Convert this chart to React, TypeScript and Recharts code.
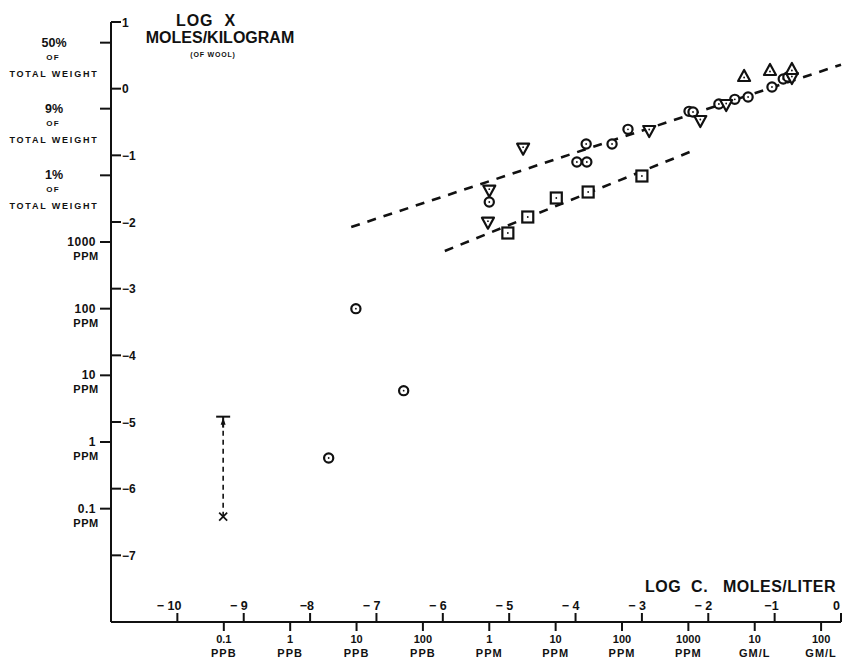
import React from 'react';
import { ScatterChart, Scatter, XAxis, YAxis, ReferenceLine } from 'recharts';

// ---- data (log C moles/liter, log X moles/kg) ----
const circlePoints = [
  { x: -7.31, y: -3.3 }, { x: -6.59, y: -4.53 }, { x: -7.72, y: -5.54 },
  { x: -5.3, y: -1.7 }, { x: -3.98, y: -1.1 }, { x: -3.83, y: -1.1 },
  { x: -3.84, y: -0.83 }, { x: -3.45, y: -0.83 }, { x: -3.21, y: -0.61 },
  { x: -2.29, y: -0.34 }, { x: -2.23, y: -0.35 }, { x: -1.84, y: -0.23 },
  { x: -1.6, y: -0.16 }, { x: -1.4, y: -0.125 }, { x: -1.04, y: 0.025 },
  { x: -0.87, y: 0.145 }, { x: -0.8, y: 0.175 },
];
const triangleDownPoints = [
  { x: -5.3, y: -1.53 }, { x: -5.32, y: -2.01 }, { x: -4.79, y: -0.9 },
  { x: -2.89, y: -0.635 }, { x: -2.12, y: -0.485 }, { x: -1.73, y: -0.245 },
  { x: -0.74, y: 0.16 },
];
const triangleUpPoints = [
  { x: -1.46, y: 0.19 }, { x: -1.07, y: 0.28 }, { x: -0.74, y: 0.295 },
];
const squarePoints = [
  { x: -5.02, y: -2.165 }, { x: -4.72, y: -1.925 }, { x: -4.29, y: -1.64 },
  { x: -3.81, y: -1.55 }, { x: -3.0, y: -1.31 },
];
const crossPoints = [{ x: -9.31, y: -6.42 }];
const errorTopPoints = [{ x: -9.31, y: -4.92 }];

const upperLine = [{ x: -7.38, y: -2.075 }, { x: 0, y: 0.36 }];
const lowerLine = [{ x: -5.97, y: -2.435 }, { x: -2.28, y: -0.95 }];
const errorLine = [{ x: -9.31, y: -6.42 }, { x: -9.31, y: -4.92 }];

// ---- ticks ----
const upperXTicks = [-10, -9, -8, -7, -6, -5, -4, -3, -2, -1, 0];
const upperXLabels = ['\u2212 10', '\u2212 9', '\u22128', '\u2212 7', '\u2212 6', '\u2212 5', '\u2212 4', '\u2212 3', '\u2212 2', '\u22121', '0'];
const lowerXTicks = [-9.3, -8.3, -7.3, -6.3, -5.3, -4.3, -3.3, -2.3, -1.3, -0.3];
const lowerXLabels = [
  ['0.1', 'PPB'], ['1', 'PPB'], ['10', 'PPB'], ['100', 'PPB'], ['1', 'PPM'],
  ['10', 'PPM'], ['100', 'PPM'], ['1000', 'PPM'], ['10', 'GM/L'], ['100', 'GM/L'],
];
const rightYTicks = [1, 0, -1, -2, -3, -4, -5, -6, -7];
const rightYLabels = ['1', '0', '\u22121', '\u22122', '\u22123', '\u22124', '\u22125', '\u22126', '\u22127'];
const leftYTicks = [0.69, -0.3, -1.3, -2.3, -3.3, -4.3, -5.3, -6.3];
const leftYLabels = [
  ['50%', 'OF', 'TOTAL WEIGHT'], ['9%', 'OF', 'TOTAL WEIGHT'], ['1%', 'OF', 'TOTAL WEIGHT'],
  ['1000', 'PPM'], ['100', 'PPM'], ['10', 'PPM'], ['1', 'PPM'], ['0.1', 'PPM'],
];

const FONT = '"Liberation Sans", Arial, sans-serif';
const INK = '#111';

const XTick = (props: any) => {
  const { x, y, payload } = props;
  const v = payload.value;
  const ui = upperXTicks.indexOf(v);
  if (ui >= 0) {
    const isLast = v === 0;
    return (
      <g>
        <line x1={x} x2={x} y1={y} y2={y - 9} stroke={INK} strokeWidth={2} />
        <text x={isLast ? x - 1 : x + 4} y={y - 12} textAnchor="end" fontFamily={FONT} fontWeight="bold" fontSize={12.5} fill={INK}>
          {upperXLabels[ui]}
        </text>
      </g>
    );
  }
  const li = lowerXTicks.indexOf(v);
  if (li >= 0) {
    const [a, b] = lowerXLabels[li];
    return (
      <g>
        <line x1={x} x2={x} y1={y} y2={y + 9} stroke={INK} strokeWidth={2} />
        <text x={x} y={y + 21} textAnchor="middle" fontFamily={FONT} fontWeight="bold" fontSize={11} fill={INK}>{a}</text>
        <text x={x} y={y + 35} textAnchor="middle" fontFamily={FONT} fontWeight="bold" fontSize={11} fill={INK} letterSpacing={1}>{b}</text>
      </g>
    );
  }
  return <g />;
};

const YTick = (props: any) => {
  const { x, y, payload } = props;
  const v = payload.value;
  const ri = rightYTicks.indexOf(v);
  if (ri >= 0) {
    return (
      <g>
        <line x1={x} x2={x + 10} y1={y} y2={y} stroke={INK} strokeWidth={2} />
        <text x={x + 11} y={y + 4.5} textAnchor="start" fontFamily={FONT} fontWeight="bold" fontSize={12} fill={INK}>
          {rightYLabels[ri]}
        </text>
      </g>
    );
  }
  const li = leftYTicks.indexOf(v);
  if (li >= 0) {
    const lab = leftYLabels[li];
    if (lab.length === 3) {
      return (
        <g>
          <line x1={x - 11} x2={x} y1={y} y2={y} stroke={INK} strokeWidth={2} />
          <text x={54} y={y + 4} textAnchor="middle" fontFamily={FONT} fontWeight="bold" fontSize={12.5} fill={INK}>{lab[0]}</text>
          <text x={53} y={y + 17} textAnchor="middle" fontFamily={FONT} fontWeight="bold" fontSize={8} fill={INK} letterSpacing={1.2}>{lab[1]}</text>
          <text x={54} y={y + 34} textAnchor="middle" fontFamily={FONT} fontWeight="bold" fontSize={9} fill={INK} letterSpacing={1.8}>{lab[2]}</text>
        </g>
      );
    }
    return (
      <g>
        <line x1={x - 11} x2={x} y1={y} y2={y} stroke={INK} strokeWidth={2} />
        <text x={96} y={y + 4} textAnchor="end" fontFamily={FONT} fontWeight="bold" fontSize={12} fill={INK} letterSpacing={0.5}>{lab[0]}</text>
        <text x={86} y={y + 18} textAnchor="middle" fontFamily={FONT} fontWeight="bold" fontSize={11} fill={INK} letterSpacing={0.5}>{lab[1]}</text>
      </g>
    );
  }
  return <g />;
};

const Dot = ({ cx, cy }: any) => <circle cx={cx} cy={cy} r={0.9} fill={INK} />;

const CircleShape = (p: any) => (
  <g>
    <circle cx={p.cx} cy={p.cy} r={4.6} fill="#fff" stroke={INK} strokeWidth={2.2} />
    <Dot cx={p.cx} cy={p.cy} />
  </g>
);
const SquareShape = (p: any) => (
  <g>
    <rect x={p.cx - 5.5} y={p.cy - 5.5} width={11} height={11} fill="#fff" stroke={INK} strokeWidth={2.2} />
    <Dot cx={p.cx} cy={p.cy} />
  </g>
);
const TriDownShape = (p: any) => (
  <g>
    <polygon
      points={`${p.cx - 6},${p.cy - 5} ${p.cx + 6},${p.cy - 5} ${p.cx},${p.cy + 6}`}
      fill="#fff" stroke={INK} strokeWidth={2.2} strokeLinejoin="round"
    />
    <Dot cx={p.cx} cy={p.cy - 1.5} />
  </g>
);
const TriUpShape = (p: any) => (
  <g>
    <polygon
      points={`${p.cx - 6},${p.cy + 5} ${p.cx + 6},${p.cy + 5} ${p.cx},${p.cy - 6}`}
      fill="#fff" stroke={INK} strokeWidth={2.2} strokeLinejoin="round"
    />
    <Dot cx={p.cx} cy={p.cy + 1.5} />
  </g>
);
const CrossShape = (p: any) => (
  <g stroke={INK} strokeWidth={1.6}>
    <line x1={p.cx - 4} y1={p.cy - 4} x2={p.cx + 4} y2={p.cy + 4} />
    <line x1={p.cx - 4} y1={p.cy + 4} x2={p.cx + 4} y2={p.cy - 4} />
  </g>
);
const CapShape = (p: any) => (
  <g>
    <line x1={p.cx - 7} x2={p.cx + 7} y1={p.cy} y2={p.cy} stroke={INK} strokeWidth={2} />
    <polygon points={`${p.cx - 2.5},${p.cy + 8} ${p.cx + 2.5},${p.cy + 8} ${p.cx},${p.cy + 1}`} fill={INK} />
    <line x1={p.cx} x2={p.cx} y1={p.cy} y2={p.cy + 11} stroke={INK} strokeWidth={2} />
  </g>
);

export default function App() {
  return (
    <div style={{ position: 'absolute', left: 0, top: 0, width: 842, height: 659, background: '#fff' }}>
      <ScatterChart width={842} height={659} margin={{ top: 22, right: 1, bottom: 0, left: 0 }}>
        <XAxis
          type="number" dataKey="x" domain={[-11, 0]} allowDataOverflow
          ticks={[...upperXTicks, ...lowerXTicks]} interval={0}
          height={37} tickSize={0} tickMargin={0} tickLine={false}
          axisLine={{ stroke: INK, strokeWidth: 2 }} tick={<XTick />}
        />
        <YAxis
          type="number" dataKey="y" domain={[-8, 1]} allowDataOverflow
          ticks={[...rightYTicks, ...leftYTicks]} interval={0}
          width={111} tickSize={0} tickMargin={0} tickLine={false}
          axisLine={{ stroke: INK, strokeWidth: 2 }} tick={<YTick />}
        />
        <ReferenceLine segment={upperLine} stroke={INK} strokeWidth={2.6} strokeDasharray="9 8" />
        <ReferenceLine segment={lowerLine} stroke={INK} strokeWidth={2.6} strokeDasharray="9 8" />
        <ReferenceLine segment={errorLine} stroke={INK} strokeWidth={1.6} strokeDasharray="5 4" />
        <Scatter data={squarePoints} isAnimationActive={false} shape={<SquareShape />} />
        <Scatter data={circlePoints} isAnimationActive={false} shape={<CircleShape />} />
        <Scatter data={triangleDownPoints} isAnimationActive={false} shape={<TriDownShape />} />
        <Scatter data={triangleUpPoints} isAnimationActive={false} shape={<TriUpShape />} />
        <Scatter data={crossPoints} isAnimationActive={false} shape={<CrossShape />} />
        <Scatter data={errorTopPoints} isAnimationActive={false} shape={<CapShape />} />
      </ScatterChart>
      <svg width={842} height={659} style={{ position: 'absolute', left: 0, top: 0, pointerEvents: 'none' }}>
        <text x={206} y={26} textAnchor="middle" fontFamily={FONT} fontWeight="bold" fontSize={16} fill={INK} letterSpacing={1} style={{ whiteSpace: 'pre' }}>LOG  X</text>
        <text x={220} y={43} textAnchor="middle" fontFamily={FONT} fontWeight="bold" fontSize={16} fill={INK}>MOLES/KILOGRAM</text>
        <text x={213} y={57} textAnchor="middle" fontFamily={FONT} fontWeight="bold" fontSize={7} fill={INK} letterSpacing={0.8}>(OF WOOL)</text>
        <text x={836} y={592} textAnchor="end" fontFamily={FONT} fontWeight="bold" fontSize={16} fill={INK} letterSpacing={0.5} style={{ whiteSpace: 'pre' }}>LOG  C.   MOLES/LITER</text>
      </svg>
    </div>
  );
}
